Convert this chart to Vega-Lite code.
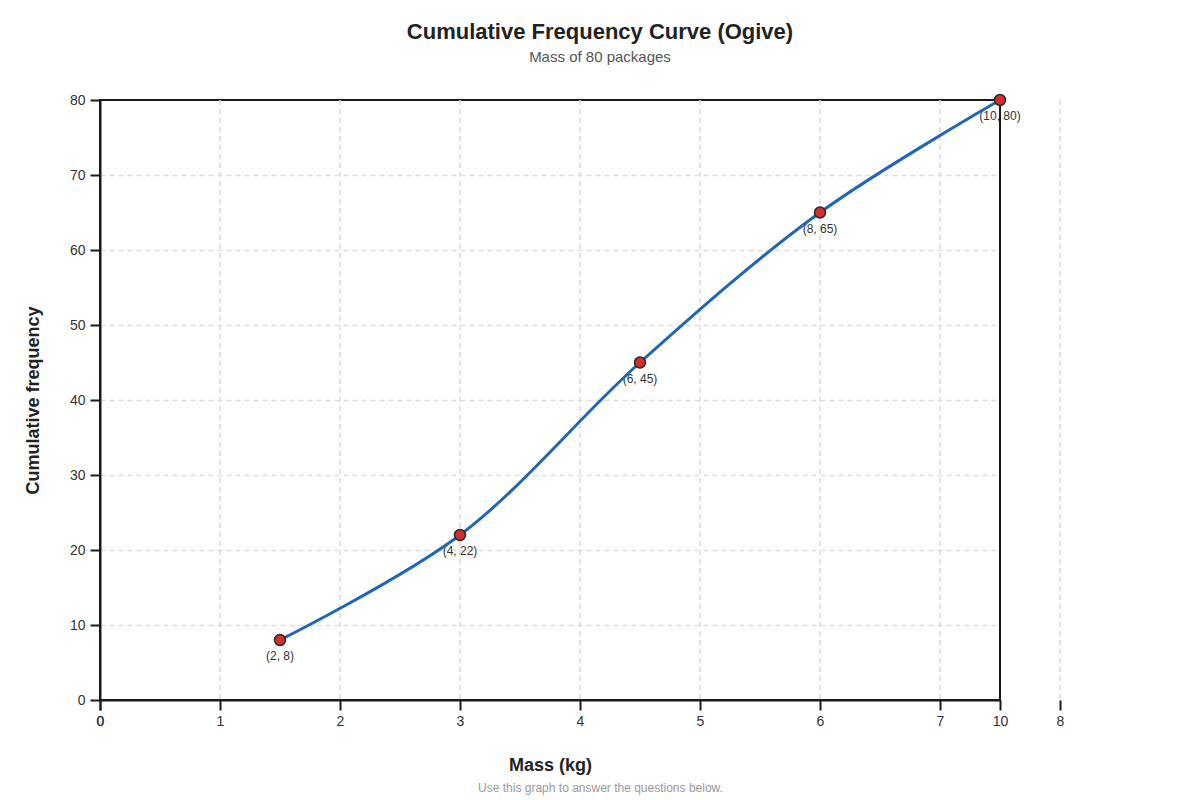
{
  "$schema": "https://vega.github.io/schema/vega-lite/v6.json",
  "width": 900,
  "height": 600,
  "autosize": {"type": "none"},
  "padding": {"left": 100, "top": 100, "right": 200, "bottom": 100},
  "background": "white",
  "config": {
    "font": "Liberation Sans",
    "view": {"stroke": "#1a1a1a", "strokeWidth": 2}
  },
  "title": {
    "text": "Cumulative Frequency Curve (Ogive)",
    "subtitle": "Mass of 80 packages",
    "fontSize": 22,
    "fontWeight": "bold",
    "color": "#222222",
    "subtitleFontSize": 15,
    "subtitleColor": "#555555",
    "subtitlePadding": 6,
    "anchor": "middle",
    "dx": 50,
    "offset": 26
  },
  "datasets": {
    "ogive": [
      {"mass": 2, "cf": 8, "label": "(2, 8)"},
      {"mass": 4, "cf": 22, "label": "(4, 22)"},
      {"mass": 6, "cf": 45, "label": "(6, 45)"},
      {"mass": 8, "cf": 65, "label": "(8, 65)"},
      {"mass": 10, "cf": 80, "label": "(10, 80)"}
    ],
    "gridTicks": [
      {"kg": 1}, {"kg": 2}, {"kg": 3}, {"kg": 4},
      {"kg": 5}, {"kg": 6}, {"kg": 7}, {"kg": 8}
    ]
  },
  "layer": [
    {
      "data": {"name": "gridTicks"},
      "mark": {"type": "rule", "color": "#d9d9d9", "strokeWidth": 1.5, "strokeDash": [5, 4]},
      "encoding": {
        "x": {
          "field": "kg",
          "type": "quantitative",
          "scale": {"domain": [0, 8], "range": [0, 960], "nice": false},
          "axis": {
            "orient": "bottom",
            "values": [0, 1, 2, 3, 4, 5, 6, 7, 8],
            "domain": false,
            "grid": false,
            "ticks": true,
            "tickColor": "#1a1a1a",
            "tickWidth": 2,
            "tickSize": 10,
            "labelFontSize": 14,
            "labelColor": "#333333",
            "labelPadding": 4,
            "labelFlush": false,
            "labelOverlap": false,
            "title": "Use this graph to answer the questions below.",
            "titleFontSize": 12,
            "titleFontWeight": "normal",
            "titleColor": "#999999",
            "titleX": 500,
            "titleY": 91,
            "titleBaseline": "alphabetic"
          }
        }
      }
    },
    {
      "data": {"name": "ogive"},
      "encoding": {
        "x": {
          "field": "mass",
          "type": "quantitative",
          "scale": {"domain": [0, 10], "nice": false},
          "axis": {
            "orient": "bottom",
            "values": [0, 10],
            "grid": false,
            "domain": true,
            "domainColor": "#1a1a1a",
            "domainWidth": 2,
            "tickColor": "#1a1a1a",
            "tickWidth": 2,
            "tickSize": 10,
            "labelFontSize": 14,
            "labelColor": "#333333",
            "labelPadding": 4,
            "labelFlush": false,
            "labelOverlap": false,
            "title": "Mass (kg)",
            "titleFontSize": 18,
            "titleFontWeight": "bold",
            "titleColor": "#222222",
            "titleY": 70,
            "titleBaseline": "alphabetic"
          }
        },
        "y": {
          "field": "cf",
          "type": "quantitative",
          "scale": {"domain": [0, 80], "nice": false},
          "axis": {
            "values": [0, 10, 20, 30, 40, 50, 60, 70, 80],
            "grid": true,
            "gridColor": "#dddddd",
            "gridWidth": 1.5,
            "gridDash": [5, 4],
            "gridOpacity": {"condition": {"test": "datum.value == 80 || datum.value == 0", "value": 0}, "value": 1},
            "domainColor": "#1a1a1a",
            "domainWidth": 2,
            "tickColor": "#1a1a1a",
            "tickWidth": 2,
            "tickSize": 10,
            "labelFontSize": 14,
            "labelColor": "#333333",
            "labelPadding": 5,
            "labelFlush": false,
            "title": "Cumulative frequency",
            "titleFontSize": 18,
            "titleFontWeight": "bold",
            "titleColor": "#222222",
            "titlePadding": 27
          }
        }
      },
      "layer": [
        {
          "mark": {"type": "text", "dy": 16, "fontSize": 12, "color": "#333333", "baseline": "middle", "align": "center"},
          "encoding": {"text": {"field": "label"}}
        },
        {
          "mark": {"type": "line", "interpolate": "catmull-rom", "color": "#1f66b8", "strokeWidth": 3}
        },
        {
          "mark": {"type": "point", "shape": "circle", "filled": true, "size": 120, "fill": "#d32f2f", "stroke": "#2a2a2a", "strokeWidth": 1.5, "opacity": 1}
        }
      ]
    }
  ],
  "resolve": {"scale": {"x": "independent"}, "axis": {"x": "independent"}}
}
